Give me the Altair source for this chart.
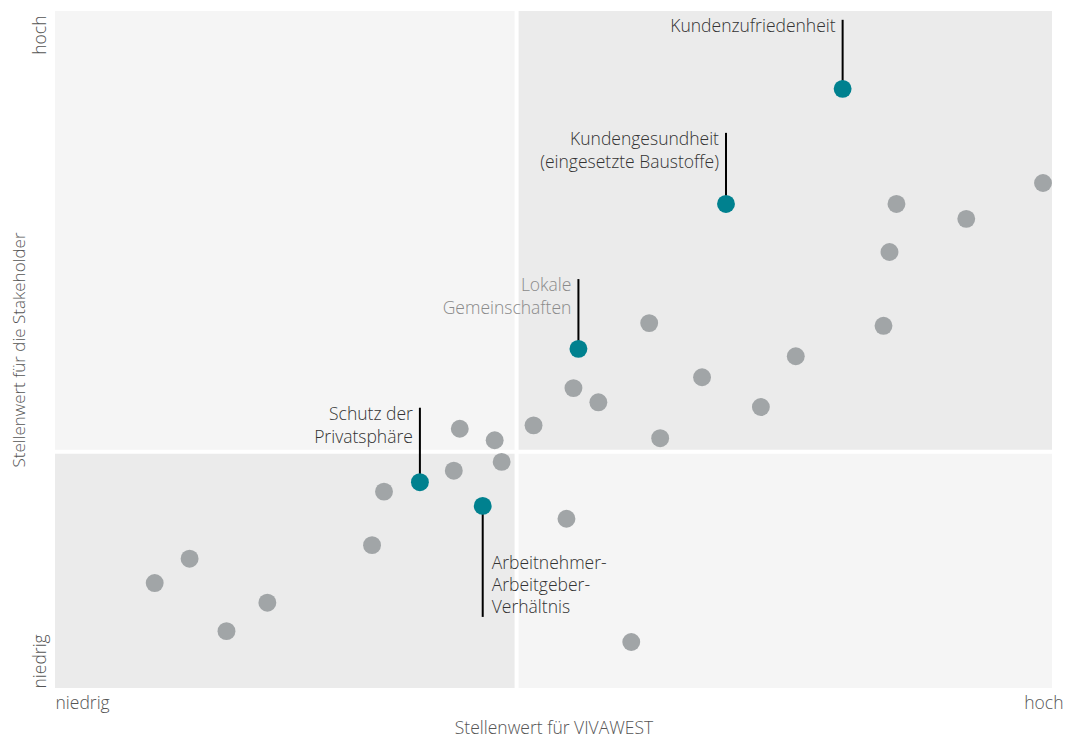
import altair as alt
import pandas as pd

# Gray points (x: Stellenwert für VIVAWEST, y: Stellenwert für die Stakeholder), 0..100 scale
gray_x = [99.1, 84.4, 91.4, 83.7, 59.6, 83.1, 74.3, 64.9, 52.0, 54.5, 70.8, 40.6, 48.0,
          44.1, 60.7, 44.8, 40.0, 33.0, 51.3, 31.8, 13.5, 10.0, 21.3, 17.2, 57.8]
gray_y = [74.6, 71.5, 69.3, 64.4, 53.9, 53.5, 49.0, 45.9, 44.3, 42.2, 41.5, 38.3, 38.8,
          36.6, 36.9, 33.4, 32.1, 29.0, 25.0, 21.1, 19.1, 15.5, 12.6, 8.4, 6.8]

# Highlighted topics
hl_names = ["Kundenzufriedenheit", "Kundengesundheit\n(eingesetzte Baustoffe)",
            "Lokale\nGemeinschaften", "Schutz der\nPrivatsphäre",
            "Arbeitnehmer-\nArbeitgeber-\nVerhältnis"]
hl_x = [79.0, 67.3, 52.5, 36.6, 42.9]
hl_y = [88.5, 71.5, 50.1, 30.4, 26.9]
leader_end = [98.7, 82.0, 60.4, 41.4, 10.5]
label_y = [98.7, 82.0, 60.4, 41.4, 19.5]
label_side = ["left", "left", "left", "left", "right"]
label_color = ["#333333", "#333333", "#8a8a8a", "#333333", "#333333"]

# Quadrant split
split_x = 46.3
split_y = 34.9

quad = pd.DataFrame({
    "x": [0, split_x, 0, split_x],
    "x2": [split_x, 100, split_x, 100],
    "y": [split_y, split_y, 0, 0],
    "y2": [100, 100, split_y, split_y],
    "c": ["#f5f5f5", "#ebebeb", "#ebebeb", "#f5f5f5"],
})

gray = pd.DataFrame({"x": gray_x, "y": gray_y})
hl = pd.DataFrame({"name": hl_names, "x": hl_x, "y": hl_y, "end": leader_end,
                   "ly": label_y, "side": label_side, "col": label_color})
hl["lines"] = hl["name"].str.split("\n")

FONT = "Open Sans"
FS = 17.5

xs = alt.Scale(domain=[0, 100], nice=False, zero=False)
ys = alt.Scale(domain=[0, 100], nice=False, zero=False)

x_axis = alt.Axis(values=[0, 100], labelExpr="datum.value == 0 ? 'niedrig' : 'hoch'",
                  title="Stellenwert für VIVAWEST", grid=False, domain=False, ticks=False,
                  labelAlign={"condition": {"test": "datum.value > 50", "value": "right"}, "value": "left"},
                  labelOffset={"condition": {"test": "datum.value > 50", "value": 11}, "value": 0},
                  labelPadding=6, titlePadding=8)
y_axis = alt.Axis(values=[0, 100], labelExpr="datum.value == 0 ? 'niedrig' : 'hoch'",
                  title="Stellenwert für die Stakeholder", grid=False, domain=False, ticks=False,
                  labelAngle=270,
                  labelAlign={"condition": {"test": "datum.value > 50", "value": "right"}, "value": "left"},
                  labelOffset={"condition": {"test": "datum.value > 50", "value": 4}, "value": 0},
                  labelBaseline="bottom", labelPadding=6, titlePadding=3, titleFontSize=17)

bg = alt.Chart(quad).mark_rect().encode(
    x=alt.X("x:Q", scale=xs, axis=x_axis),
    x2="x2", y=alt.Y("y:Q", scale=ys, axis=y_axis), y2="y2",
    color=alt.Color("c:N", scale=None),
)

vline = alt.Chart(pd.DataFrame({"x": [split_x]})).mark_rule(color="white", strokeWidth=4).encode(
    x=alt.X("x:Q", scale=xs))
hline = alt.Chart(pd.DataFrame({"y": [split_y]})).mark_rule(color="white", strokeWidth=4).encode(
    y=alt.Y("y:Q", scale=ys))

gpts = alt.Chart(gray).mark_circle(size=320, opacity=1, color="#a1a5a7").encode(
    x=alt.X("x:Q", scale=xs), y=alt.Y("y:Q", scale=ys))

leaders = alt.Chart(hl).mark_rule(color="#000000", strokeWidth=2).encode(
    x=alt.X("x:Q", scale=xs), y=alt.Y("y:Q", scale=ys), y2="end")

hpts = alt.Chart(hl).mark_circle(size=320, opacity=1, color="#00818f").encode(
    x=alt.X("x:Q", scale=xs), y=alt.Y("y:Q", scale=ys))

lab_r = alt.Chart(hl).transform_filter("datum.side == 'left'").mark_text(
    align="right", baseline="top", dx=-7, dy=-2, font=FONT, fontSize=FS, fontWeight=300,
    lineHeight=23).encode(
    x=alt.X("x:Q", scale=xs), y=alt.Y("ly:Q", scale=ys), text="lines",
    color=alt.Color("col:N", scale=None))

lab_l = alt.Chart(hl).transform_filter("datum.side == 'right'").mark_text(
    align="left", baseline="top", dx=9, dy=-1, font=FONT, fontSize=FS, fontWeight=300,
    lineHeight=22).encode(
    x=alt.X("x:Q", scale=xs), y=alt.Y("ly:Q", scale=ys), text="lines",
    color=alt.Color("col:N", scale=None))

chart = alt.layer(bg, vline, hline, gpts, leaders, hpts, lab_r, lab_l).properties(
    width=997, height=677,
    autosize=alt.AutoSizeParams(type="none"),
    padding={"left": 47, "top": 3, "right": 13, "bottom": 50},
).configure_view(stroke=None).configure_axis(
    labelFont=FONT, labelFontSize=FS, labelFontWeight=300, labelColor="#555555",
    titleFont=FONT, titleFontSize=FS, titleFontWeight=300, titleColor="#555555",
)

chart.save("out.html", embed_options={"renderer": "svg", "actions": False})
